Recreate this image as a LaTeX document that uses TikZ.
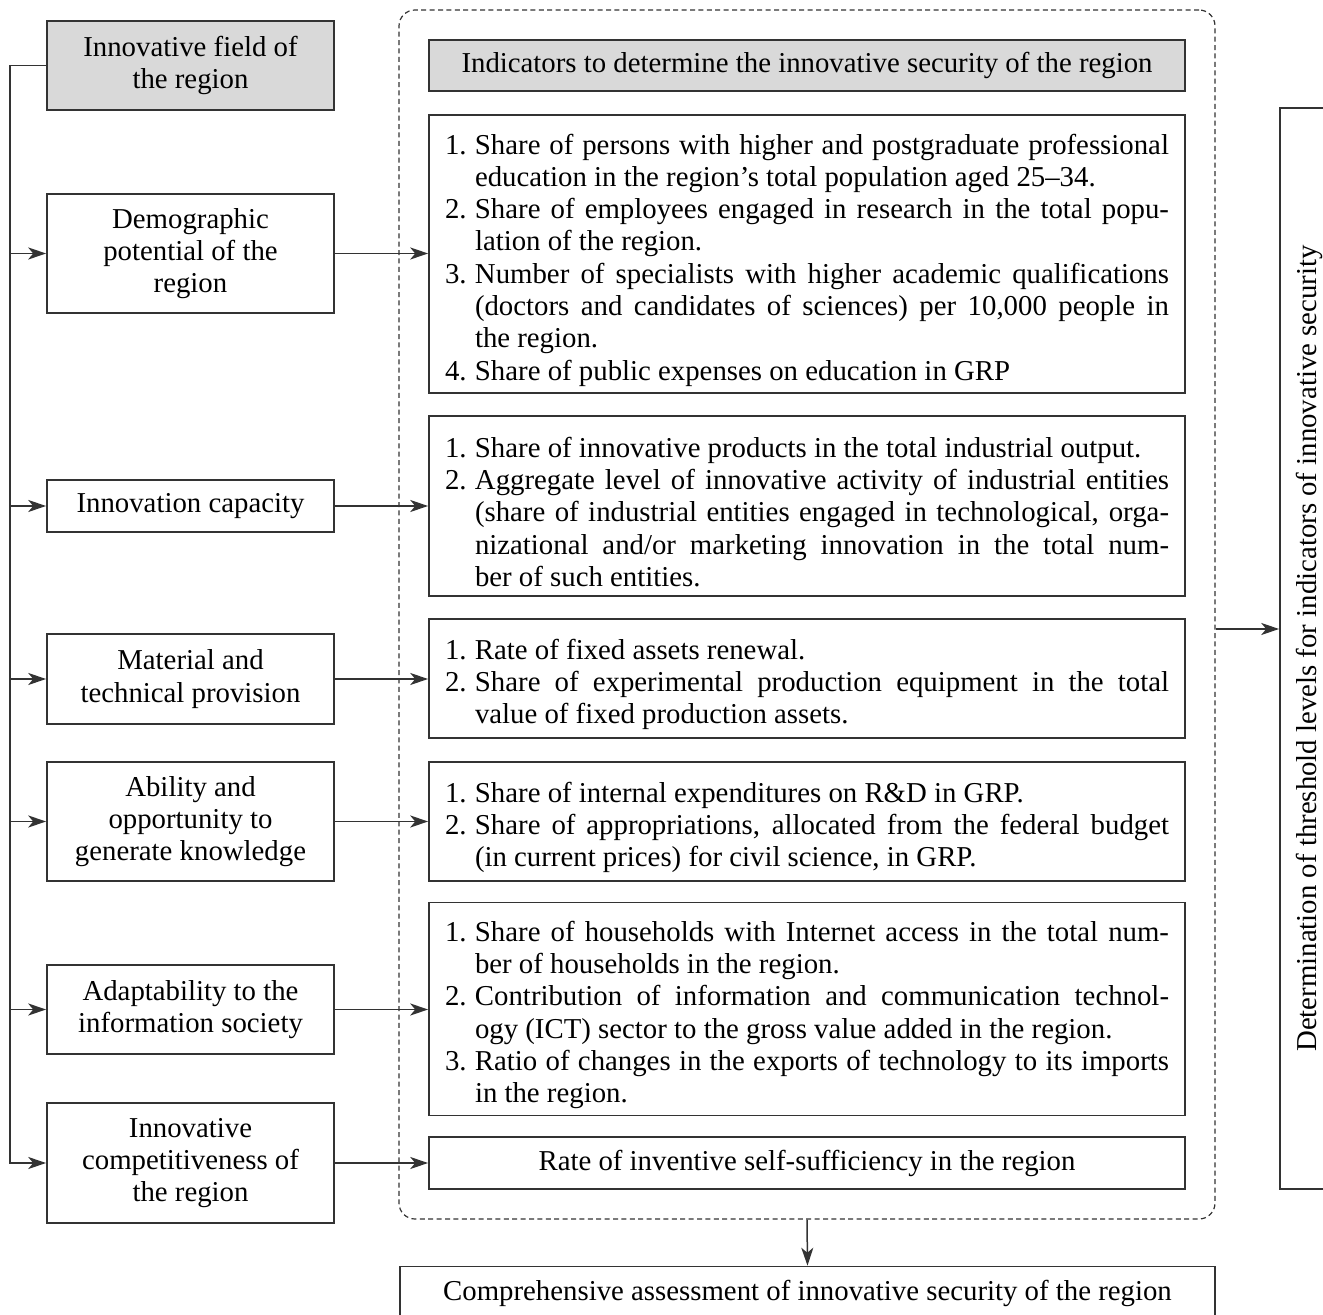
\documentclass[tikz,border=0pt]{standalone}
\usepackage{fontspec}
\setmainfont{Liberation Serif}
\usetikzlibrary{arrows.meta}
\usepackage{xcolor}

\definecolor{linegray}{HTML}{333333}
\definecolor{fillgray}{HTML}{D9D9D9}
\newcommand{\numitem}[1]{\par\noindent\hangindent=15pt\hangafter=1\makebox[15pt][l]{#1}}
\tolerance=10000
\hyphenpenalty=10000

\begin{document}
\begin{tikzpicture}[x=0.5pt, y=-0.5pt, font=\fontsize{14.4}{16.15}\selectfont]
        % Styles
        \tikzstyle{fieldbox} = [rectangle, draw=linegray, line width=0.8pt, minimum width=143.5pt, align=center, inner sep=2pt]
        \tikzstyle{headbox} = [fieldbox, fill=fillgray]
        \tikzstyle{listbox} = [rectangle, draw=linegray, line width=0.8pt, text width=362pt, inner xsep=8pt, align=justify]
        \tikzstyle{groupbox} = [rectangle, draw=linegray, line width=0.6pt, dash pattern=on 2.5pt off 1.7pt, rounded corners=8pt]
        \tikzstyle{arrow} = [line width=0.75pt, draw=linegray, -{Stealth[length=9pt, width=6pt, inset=2.5pt]}]

        \useasboundingbox (0,0) rectangle (1323,1315);

        % Nodes
        \node (field) [headbox, minimum height=44.5pt] at (190.5,65.5) {Innovative field of\\the region};
        \node (demo) [fieldbox, minimum height=59.5pt] at (190.5,253.5) {Demographic\\potential of the\\region};
        \node (capac) [fieldbox, minimum height=26pt] at (190.5,506) {Innovation capacity};
        \node (mater) [fieldbox, minimum height=45pt] at (190.5,679) {Material and\\technical provision};
        \node (abil) [fieldbox, minimum height=59.5pt] at (190.5,821.5) {Ability and\\opportunity to\\generate knowledge};
        \node (adapt) [fieldbox, minimum height=44.5pt] at (190.5,1009.5) {Adaptability to the\\information society};
        \node (compet) [fieldbox, minimum height=60pt] at (190.5,1163) {Innovative\\competitiveness of\\the region};

        \node (group) [groupbox, minimum width=408pt, minimum height=604.5pt] at (807,614.5) {};
        \node (head) [headbox, minimum width=378pt, minimum height=25.5pt] at (807,65.5) {Indicators to determine the innovative security of the region};
        \node (ind1) [listbox, minimum height=139pt] at (807,254) {%
          \numitem{1.}Share of persons with higher and postgraduate professional\linebreak education in the region’s total population aged 25--34.
          \numitem{2.}Share of employees engaged in research in the total popu-\linebreak lation of the region.
          \numitem{3.}Number of specialists with higher academic qualifications\linebreak (doctors and candidates of sciences) per 10,000 people in\linebreak the region.
          \numitem{4.}Share of public expenses on education in GRP\par};
        \node (ind2) [listbox, minimum height=90pt] at (807,506) {%
          \numitem{1.}Share of innovative products in the total industrial output.
          \numitem{2.}Aggregate level of innovative activity of industrial entities\linebreak (share of industrial entities engaged in technological, orga-\linebreak nizational and/or marketing innovation in the total num-\linebreak ber of such entities.\par};
        \node (ind3) [listbox, minimum height=59.5pt] at (807,678.5) {%
          \numitem{1.}Rate of fixed assets renewal.
          \numitem{2.}Share of experimental production equipment in the total\linebreak value of fixed production assets.\par};
        \node (ind4) [listbox, minimum height=59.5pt] at (807,821.5) {%
          \numitem{1.}Share of internal expenditures on R\&D in GRP.
          \numitem{2.}Share of appropriations, allocated from the federal budget\linebreak (in current prices) for civil science, in GRP.\par};
        \node (ind5) [listbox, minimum height=105pt] at (807,1009) {%
          \numitem{1.}Share of households with Internet access in the total num-\linebreak ber of households in the region.
          \numitem{2.}Contribution of information and communication technol-\linebreak ogy (ICT) sector to the gross value added in the region.
          \numitem{3.}Ratio of changes in the exports of technology to its imports\linebreak in the region.\par};
        \node (ind6) [fieldbox, minimum width=378pt, minimum height=26pt] at (807,1163) {Rate of inventive self-sufficiency in the region};

        \node (thresh) [fieldbox, rotate=90, minimum width=540.5pt, minimum height=29pt] at (1309,648.5) {Determination of threshold levels for indicators of innovative security};
        \node (total) [fieldbox, minimum width=407.5pt, minimum height=27pt] at (807.5,1293.5) {Comprehensive assessment of innovative security of the region};

        % Paths
        \coordinate (spine) at (10,0);
        \coordinate (threshin) at (1250,629);
        \draw [arrow] (field.west) -| (spine |- compet.west) -- (compet.west);
        \foreach \f in {demo, capac, mater, abil, adapt}
          \draw [arrow] (spine |- \f.west) -- (\f.west);
        \foreach \f/\i in {demo/ind1, capac/ind2, mater/ind3, abil/ind4, adapt/ind5, compet/ind6}
          \draw [arrow] (\f.east) -- (\f.east -| \i.west);
        \draw [arrow] (group.east |- threshin) -- (thresh.north |- threshin);
        \draw [arrow] (group.south) -- (total.north);

\end{tikzpicture}
\end{document}
